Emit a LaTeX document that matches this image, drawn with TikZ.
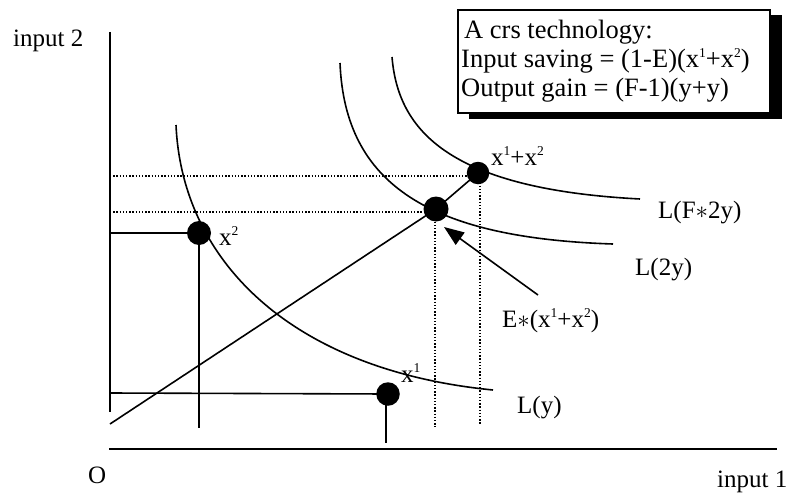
\documentclass[tikz,border=0pt]{standalone}
\usepackage{fontspec}
\setmainfont{Liberation Serif}
\usetikzlibrary{arrows.meta}
\newcommand\supr[1]{\raisebox{10pt}{\fontsize{13.5}{14}\selectfont #1}}
\newcommand\astm{$\ast$}
\begin{document}
\begin{tikzpicture}[x=1pt,y=-1pt,
  every node/.style={font=\fontsize{25}{30}\selectfont, inner sep=0pt},
  lbl/.style={anchor=base west},
  boxtext/.style={anchor=base west, font=\fontsize{26.5}{30}\selectfont},
  dotn/.style={circle, fill=black, minimum size=24pt, inner sep=0pt},
  axisline/.style={line width=2pt},
  curveline/.style={line width=1.6pt},
  plainline/.style={line width=1.6pt},
  dotline/.style={line width=1.3pt, dash pattern=on 1.3pt off 1.9pt},
]
\useasboundingbox (0,0) rectangle (791,495);

% axes
\coordinate (ytop) at (110,32);
\coordinate (ybot) at (110,412);
\coordinate (xl) at (109,449);
\coordinate (xr) at (777,449);
\draw[axisline] (ytop) -- (ybot);
\draw[axisline] (xl) -- (xr);

% dotted guide lines
\coordinate (d1l) at (110,176); \coordinate (d1r) at (478,176);
\coordinate (d2l) at (110,212); \coordinate (d2r) at (436,212);
\coordinate (v1t) at (435,212); \coordinate (v1b) at (435,427);
\coordinate (v2t) at (480,176); \coordinate (v2b) at (480,424);
\draw[dotline] (d1l) -- (d1r);
\draw[dotline] (d2l) -- (d2r);
\draw[dotline] (v1t) -- (v1b);
\draw[dotline] (v2t) -- (v2b);

% isoquants
\coordinate (ly0) at (176,125); \coordinate (ly1) at (493,390);
\coordinate (la0) at (340,63);  \coordinate (la1) at (613,244);
\coordinate (lb0) at (392,57);  \coordinate (lb1) at (640,199);
\draw[curveline] (ly0) .. controls (182,260) and (290,370) .. (ly1);
\draw[curveline] (la0) .. controls (345,185) and (430,238) .. (la1);
\draw[curveline] (lb0) .. controls (398,130) and (448,189) .. (lb1);

% points
\node[dotn] (p2) at (199,233) {};
\node[dotn, minimum size=23.5pt] (p1) at (388,394) {};
\node[dotn, minimum size=25pt] (pe) at (436,209) {};
\node[dotn, minimum size=22.5pt] (ps) at (478,173) {};

% solid lines
\coordinate (p2l) at (110,233);
\coordinate (p2b) at (199,428);
\draw[plainline] (p2l) -- (p2.center) -- (p2b);
\coordinate (p1l) at (110,393);
\coordinate (p1t) at (386,394);
\coordinate (p1b) at (386,443);
\draw[plainline] (p1l) -- (p1.center);
\draw[plainline] (p1t) -- (p1b);
\coordinate (r0) at (110,424);
\draw[plainline] (r0) -- (pe.center) -- (ps.center);

% arrow
\coordinate (atail) at (538,295);
\coordinate (ahead) at (444,227);
\draw[plainline, -{Triangle[length=20pt,width=15pt]}] (atail) -- (ahead);

% box with shadow
\coordinate (sh1) at (469,15); \coordinate (sh2) at (782,119);
\coordinate (bx1) at (458,10); \coordinate (bx2) at (770,113);
\fill[black] (sh1) rectangle (sh2);
\draw[fill=white, line width=1.3pt] (bx1) rectangle (bx2);
\node[boxtext] (t1) at (464,38) {A crs technology:};
\node[boxtext] (t2) at (461,67) {Input saving = (1-E)(x\supr{1}+x\supr{2})};
\node[boxtext] (t3) at (461,96) {Output gain = (F-1)(y+y)};

% labels
\node[lbl] (in2) at (13,47) {input 2};
\node[lbl] (in1) at (717,487) {input 1};
\node[lbl] (orig) at (88,483) {O};
\node[lbl] (ly) at (517,413) {L(y)};
\node[lbl] (l2y) at (635,275) {L(2y)};
\node[lbl] (lf2y) at (658,218) {L(F\astm 2y)};
\node[lbl] (ex) at (502,327) {E\astm(x\supr{1}+x\supr{2})};
\node[lbl] (xs) at (491,165) {x\supr{1}+x\supr{2}};
\node[lbl] (x2l) at (219,245) {x\supr{2}};
\node[lbl] (x1l) at (401,382) {x\supr{1}};
\end{tikzpicture}
\end{document}
